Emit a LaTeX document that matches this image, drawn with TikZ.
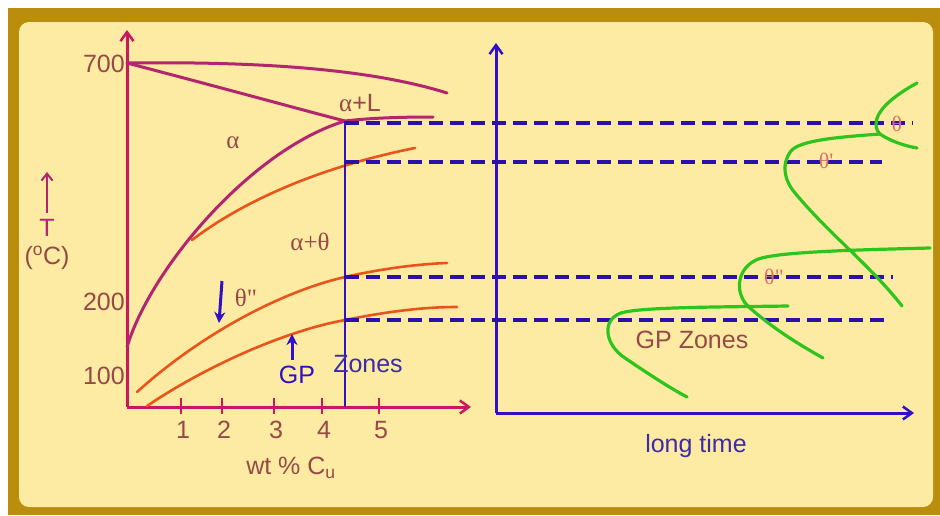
\documentclass[tikz,border=0pt]{standalone}
\usepackage{fontspec}
\setmainfont{Liberation Sans}
\newfontfamily\grk{Liberation Serif}
\usetikzlibrary{arrows.meta}
\definecolor{gold}{RGB}{186,142,12}
\definecolor{panel}{RGB}{253,234,163}
\definecolor{axred}{RGB}{200,24,96}
\definecolor{solv}{RGB}{178,38,112}
\definecolor{orng}{RGB}{232,84,26}
\definecolor{blu}{RGB}{48,16,200}
\definecolor{dashblu}{RGB}{44,16,170}
\definecolor{grn}{RGB}{45,196,30}
\definecolor{txt}{RGB}{150,74,70}
\definecolor{pinkt}{RGB}{215,112,104}
\definecolor{zblue}{RGB}{60,44,170}
\tikzset{
  axisL/.style={axred, line width=3pt, -{Straight Barb[length=9pt,width=13pt,line width=2.5pt]}},
  axisR/.style={blu, line width=3pt, -{Straight Barb[length=9pt,width=13pt,line width=2.5pt]}},
  tickmark/.style={axred, line width=2.5pt},
  dsh/.style={dashblu, line width=3.5pt, dash pattern=on 14pt off 7pt},
  pcurve/.style={solv, line width=3pt, line cap=round},
  ocurve/.style={orng, line width=2.6pt, line cap=round},
  gcurve/.style={grn, line width=3.2pt, line cap=round},
  lbl/.style={txt, inner sep=0pt},
  smallarrow/.style={blu, line width=3pt, -{Stealth[length=11pt,width=11pt]}},
}
\begin{document}
\begin{tikzpicture}[x=1pt,y=-1pt,font=\fontsize{25}{28}\selectfont]
\useasboundingbox (0,0) rectangle (940,515);
\fill[white] (0,0) rectangle (940,515);
\fill[gold] (8,8) rectangle (940,515);
\fill[panel, rounded corners=10pt] (19,22) rectangle (933,507);

% ---------- left diagram ----------
\coordinate (O) at (127,407);
\coordinate (Ytop) at (127,30);
\coordinate (Xend) at (471,407);
\draw[axisL] (O) -- (Ytop);
\draw[axisL] (O) -- (Xend);

% ticks and labels
\foreach \n/\x in {1/181,2/222,3/274,4/322,5/379}{
  \coordinate (tk\n a) at (\x,398);
  \coordinate (tk\n b) at (\x,414);
  \draw[tickmark] (tk\n a) -- (tk\n b);
  \node[lbl] (tl\n) at (\x+2,430) {\n};
}
\node[lbl] (xlab) at (291,468) {wt \% C\textsubscript{u}};

\node[lbl, anchor=east] (l700) at (125,64) {700};
\node[lbl, anchor=east] (l200) at (125,302) {200};
\node[lbl, anchor=east] (l100) at (125,376) {100};

\node[solv, inner sep=0pt, anchor=north] (T) at (47,219) {T};
\coordinate (Tbot) at (47,213);
\coordinate (Ttop) at (47,172);
\draw[solv, line width=2.5pt, -{Straight Barb[length=7pt,width=11pt,line width=2pt]}] (Tbot) -- (Ttop);
\node[lbl] (unit) at (47,258) {(\textsuperscript{o}C)};

% liquidus / solidus
\draw[pcurve] (127,63) .. controls (280,61) and (380,72) .. (447,93);
\draw[pcurve] (127,63) .. controls (230,90) and (310,112) .. (345,121)
  .. controls (370,118) and (400,117) .. (433,117);
% solvus
\draw[pcurve] (127,347) .. controls (150,270) and (250,150) .. (345,121);

% orange precipitate lines
\draw[ocurve] (192,240) .. controls (250,196) and (330,165) .. (415,148);
\draw[ocurve] (137,392) .. controls (200,335) and (280,292) .. (345,277)
  .. controls (385,268) and (420,264) .. (447,263);
\draw[ocurve] (147,406) .. controls (200,370) and (280,332) .. (345,320)
  .. controls (390,311) and (425,307) .. (457,307);

% vertical composition line
\coordinate (vtop) at (345,121);
\coordinate (vbot) at (345,407);
\draw[blu, line width=1.8pt] (vtop) -- (vbot);

% phase labels
\node[lbl] (alpha) at (233,143) {\grk α};
\node[lbl] (aL) at (360,103) {{\grk α}+L};
\node[lbl] (at) at (310,242) {\grk α+θ};
\node[lbl] (thpp) at (246,298) {\grk θ"};
\coordinate (thA1) at (222,281);
\coordinate (thA2) at (219,323);
\draw[smallarrow] (thA1) -- (thA2);
\coordinate (gpA1) at (292,360);
\coordinate (gpA2) at (292,334);
\draw[smallarrow] (gpA1) -- (gpA2);
\node[blu, inner sep=0pt] (gp) at (297,375) {GP};
\node[zblue, inner sep=0pt] (zones) at (368,364) {Zones};

% ---------- right diagram ----------
\coordinate (O2) at (496,413);
\coordinate (Y2) at (496,43);
\coordinate (X2) at (914,413);
\draw[axisR] (O2) -- (Y2);
\draw[axisR] (O2) -- (X2);
\node[zblue, inner sep=0pt] (lt) at (696,446) {long time};

% dashed isotherms
\coordinate (d1a) at (345,123); \coordinate (d1b) at (913,123);
\coordinate (d2a) at (345,162); \coordinate (d2b) at (882,162);
\coordinate (d3a) at (345,277); \coordinate (d3b) at (893,277);
\coordinate (d4a) at (345,320); \coordinate (d4b) at (889,320);
\draw[dsh] (d1a) -- (d1b);
\draw[dsh] (d2a) -- (d2b);
\draw[dsh] (d3a) -- (d3b);
\draw[dsh] (d4a) -- (d4b);

% green C-curves
\draw[gcurve] (917,83) .. controls (895,95) and (876,110) .. (876,124)
  .. controls (876,129) and (878,132) .. (880,134)
  .. controls (890,141) and (905,146) .. (917,148);
\draw[gcurve] (880,134) .. controls (840,137) and (800,140) .. (791,151)
  .. controls (781,164) and (784,180) .. (795,193)
  .. controls (830,235) and (870,265) .. (902,306);
\draw[gcurve] (930,248) .. controls (850,250) and (772,252) .. (756,260)
  .. controls (735,270) and (735,296) .. (750,308)
  .. controls (775,330) and (800,345) .. (823,358);
\draw[gcurve] (788,306) .. controls (720,307) and (640,307) .. (621,313)
  .. controls (601,320) and (605,345) .. (625,358)
  .. controls (650,375) and (670,388) .. (687,397);

\node[pinkt, inner sep=0pt, font=\fontsize{22}{24}\selectfont] (th) at (897,124) {\grk θ};
\node[pinkt, inner sep=0pt, font=\fontsize{22}{24}\selectfont] (thp) at (826,161) {\grk θ'};
\node[pinkt, inner sep=0pt, font=\fontsize{22}{24}\selectfont] (thpp2) at (774,277) {\grk θ"};
\node[txt, inner sep=0pt] (gpz) at (692,340) {GP Zones};
\end{tikzpicture}
\end{document}
